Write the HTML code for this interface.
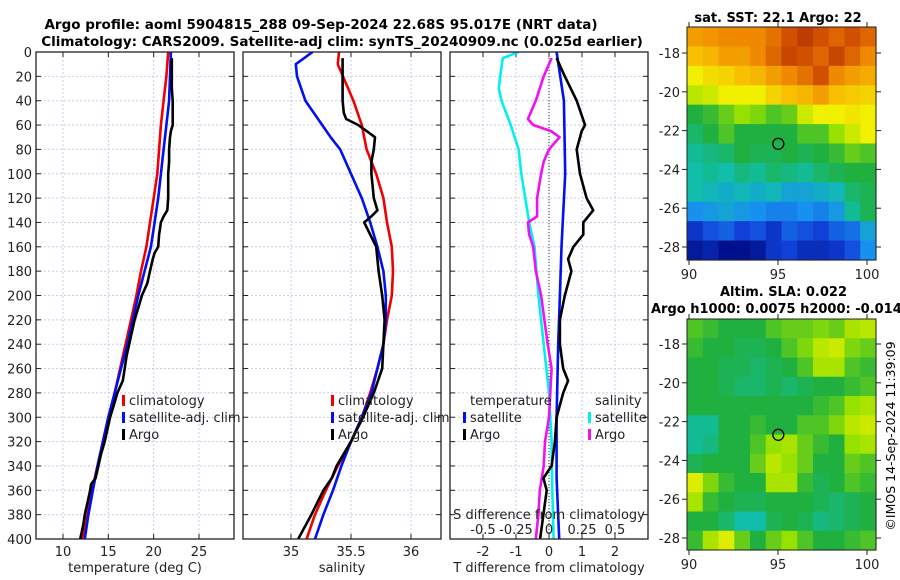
<!DOCTYPE html>
<html><head><meta charset="utf-8"><style>
html,body{margin:0;padding:0;background:#fff}
svg{display:block;font-family:"DejaVu Sans","Liberation Sans",sans-serif}
</style></head><body>
<svg id="chart" width="900" height="580" viewBox="0 0 900 580" xmlns="http://www.w3.org/2000/svg">
<text x="321" y="29" font-size="13.5" font-weight="bold" text-anchor="middle">Argo profile: aoml 5904815_288 09-Sep-2024 22.68S 95.017E (NRT data)</text>
<text x="342" y="46" font-size="13.5" font-weight="bold" text-anchor="middle">Climatology: CARS2009. Satellite-adj clim: synTS_20240909.nc (0.025d earlier)</text>
<g id="g"></g>
<text x="778" y="22" font-size="13" font-weight="bold" text-anchor="middle">sat. SST: 22.1 Argo: 22</text>
<text x="720" y="296" font-size="13" font-weight="bold">Altim. SLA: 0.022</text>
<text x="651" y="313" font-size="13" font-weight="bold">Argo h1000: 0.0075 h2000: -0.014</text>
<text transform="translate(895,436) rotate(-90)" font-size="12.5" text-anchor="middle">©IMOS 14-Sep-2024 11:39:09</text>
</svg>
<script>
const tDepthClim=[0,20,40,60,80,100,120,140,160,180,200,220,240,260,280,300,320,340,360,380,400];
const tempClim=[21.6,21.4,21.1,20.8,20.6,20.4,20.0,19.6,19.2,18.6,18.1,17.5,16.9,16.3,15.7,15.0,14.4,13.8,13.2,12.7,12.1];
const tempSat=[21.9,21.8,21.7,21.4,21.1,20.8,20.5,20.1,19.7,19.0,18.3,17.7,17.1,16.4,15.7,15.0,14.4,13.8,13.3,12.8,12.4];
const argoDepth=[5,10,20,30,40,50,60,65,70,80,90,100,110,120,130,135,140,150,160,165,170,180,190,200,210,220,230,240,250,260,270,280,290,300,310,320,330,340,350,355,360,370,380,390,400];
const tempArgo=[22.0,22.0,22.0,22.0,22.1,22.1,22.1,21.9,21.8,21.7,21.7,21.6,21.6,21.6,21.5,21.1,20.8,20.6,20.5,20.1,19.9,19.6,19.3,18.7,18.3,17.9,17.6,17.3,17.0,16.8,16.6,16.0,15.6,15.2,14.9,14.6,14.2,13.9,13.6,13.1,13.0,12.7,12.4,12.2,11.9];
const sDepthClim=[0,10,40,60,80,100,120,140,160,180,200,220,240,260,280,300,320,340,360,380,400];
const salClim=[35.40,35.39,35.52,35.59,35.63,35.71,35.77,35.80,35.84,35.85,35.84,35.80,35.77,35.72,35.66,35.59,35.50,35.39,35.29,35.20,35.13];
const sDepthSat=[0,10,20,40,60,70,80,100,120,140,160,180,200,220,240,260,280,300,320,340,360,380,400];
const salSat=[35.18,35.04,35.05,35.12,35.26,35.33,35.41,35.50,35.59,35.66,35.72,35.77,35.79,35.79,35.77,35.72,35.67,35.59,35.50,35.42,35.35,35.27,35.20];
const sDepthArgo=[5,20,40,50,55,60,65,70,80,90,100,120,130,135,140,150,160,180,200,220,240,260,280,300,320,340,350,360,380,400];
const salArgo=[35.43,35.43,35.43,35.44,35.46,35.56,35.63,35.70,35.69,35.67,35.67,35.69,35.72,35.67,35.61,35.66,35.71,35.73,35.76,35.78,35.77,35.76,35.69,35.60,35.50,35.38,35.34,35.27,35.17,35.06];
const dDepthTSat=[0,40,100,160,200,240,300,350,400];
const dTempSat=[0.23,0.45,0.49,0.38,0.33,0.28,0.23,0.23,0.31];
const dDepthTArgo=[5,20,40,60,65,80,100,120,130,140,150,160,170,180,200,220,240,260,270,280,300,320,340,350,360,380,400];
const dTempArgo=[0.23,0.48,0.84,1.09,0.99,0.84,0.94,1.14,1.34,1.04,1.04,0.74,0.58,0.68,0.48,0.33,0.33,0.43,0.58,0.43,0.23,0.18,0.08,-0.17,-0.07,-0.17,-0.27];
const dDepthSSat=[0,5,20,30,40,60,80,100,140,160,200,240,280,320,360,400];
const dSalSat=[-0.23,-0.35,-0.37,-0.38,-0.36,-0.29,-0.23,-0.21,-0.15,-0.11,-0.08,-0.04,0.00,0.02,0.025,0.035];
const dDepthSArgo=[5,20,40,55,60,65,70,80,90,100,120,135,140,150,160,180,200,240,260,280,300,320,340,360,380,400];
const dSalArgo=[0.02,-0.04,-0.10,-0.16,-0.12,0.015,0.08,0.00,-0.04,-0.06,-0.09,-0.09,-0.16,-0.15,-0.12,-0.10,-0.06,-0.01,0.02,0.01,0.00,-0.03,-0.04,-0.07,-0.08,-0.10];
const depthTicks=[0,20,40,60,80,100,120,140,160,180,200,220,240,260,280,300,320,340,360,380,400];
const tempTicks=[10,15,20,25];
const salTicks=[35,35.5,36];
const salTickLabels=["35","35.5","36"];
const dTempTicks=[-2,-1,0,1,2];
const dSalTicks=[-0.5,-0.25,0,0.25,0.5];
const dSalTickLabels=["-0.5","-0.25","0","0.25","0.5"];
const latTicks=[-18,-20,-22,-24,-26,-28];
const lonTicks=[90,95,100];
const sstGrid=[
[23.8,23.9,24.0,24.0,24.0,24.2,24.5,24.7,24.5,24.3,24.5,24.3],
[23.5,23.6,23.8,23.8,24.0,24.3,24.6,24.5,24.3,24.6,24.3,24.0],
[23.0,23.2,23.3,23.5,23.6,23.8,24.0,24.2,24.5,24.0,23.8,23.7],
[22.7,22.8,23.0,23.0,23.0,23.3,23.5,23.6,23.8,23.5,23.4,23.3],
[22.0,22.1,22.3,22.5,22.4,22.2,22.3,22.8,23.0,23.0,23.1,23.0],
[21.8,22.0,22.2,22.0,22.0,22.0,22.0,22.2,22.2,22.5,22.8,23.0],
[21.6,21.7,21.8,22.0,21.9,21.9,22.0,21.9,22.0,22.1,22.3,22.2],
[21.5,21.6,21.5,21.7,21.6,21.8,21.7,21.6,21.8,21.9,22.0,22.0],
[21.5,21.4,21.3,21.4,21.3,21.4,21.2,21.2,21.3,21.4,21.8,21.9],
[21.0,21.1,21.2,21.1,21.0,20.9,20.9,21.0,20.9,21.1,21.6,21.9],
[20.4,20.6,20.7,20.5,20.6,20.4,20.7,20.6,20.5,20.7,20.8,21.2],
[20.1,20.2,20.0,20.0,20.1,20.4,20.5,20.3,20.3,20.4,20.6,21.0]];
const slaGrid=[
[22.2,22.1,22.0,22.0,22.0,22.2,22.3,22.3,22.4,22.3,22.6,22.7],
[22.1,22.0,22.0,21.9,21.9,22.0,22.2,22.4,22.7,22.8,22.4,22.3],
[22.0,22.0,21.9,21.9,21.8,21.9,22.0,22.2,22.6,22.6,22.2,22.1],
[22.0,22.0,21.9,21.8,21.8,21.9,21.8,21.9,22.0,22.0,22.1,22.2],
[22.0,22.0,22.0,22.0,22.0,22.0,22.0,22.0,22.1,22.2,22.5,22.6],
[21.6,21.6,22.0,22.0,22.1,22.0,22.0,22.2,22.2,22.4,22.7,22.8],
[21.6,21.7,22.0,22.0,22.2,22.5,22.6,22.3,22.1,22.0,22.5,22.6],
[21.9,22.0,22.0,22.0,22.3,22.7,22.5,22.3,22.0,22.0,22.3,22.2],
[22.9,22.4,22.1,22.0,22.0,22.6,22.6,22.1,21.9,22.0,22.2,22.1],
[22.6,22.1,22.0,21.9,21.9,22.0,22.0,22.0,21.9,21.8,21.9,22.0],
[22.0,22.0,21.8,21.5,21.5,21.9,22.0,21.9,21.7,21.8,21.9,22.0],
[22.1,22.6,22.9,22.3,22.0,22.3,22.5,22.2,22.0,22.0,22.1,22.2]];
const argoLon=95.017, argoLat=-22.68;

const NS="http://www.w3.org/2000/svg";
const G=document.getElementById('g');
function mk(tag,at,parent){const e=document.createElementNS(NS,tag);for(const k in at)e.setAttribute(k,at[k]);(parent||G).appendChild(e);return e;}
const Y0=52,Y1=539;
const yD=d=>Y0+(d/400)*(Y1-Y0);
function lin(d0,d1,r0,r1){return v=>r0+(v-d0)/(d1-d0)*(r1-r0);}

function panel(name,x0,x1,xs,xt,xtl,showY,xlabel){
  const grid=mk('g',{});
  
  
  depthTicks.forEach(d=>{
    const gl=mk('line',{x1:x0,x2:x1,y1:yD(d),y2:yD(d),stroke:'#c8cbea','stroke-width':1,'stroke-dasharray':'2,2'},grid);
    
    
    mk('line',{x1:x0,x2:x0+5,y1:yD(d),y2:yD(d),stroke:'#222'},grid);
    mk('line',{x1:x1-5,x2:x1,y1:yD(d),y2:yD(d),stroke:'#222'},grid);
    if(showY){const t=mk('text',{x:x0-4,y:yD(d)+5,'font-size':13,'text-anchor':'end',fill:'#222'});t.textContent=d;
      
      }
  });
  xt.forEach((v,i)=>{
    const x=xs(v);
    const gl=mk('line',{x1:x,x2:x,y1:Y0,y2:Y1,stroke:'#c8cbea','stroke-width':1,'stroke-dasharray':'2,2'},grid);
    
    
    mk('line',{x1:x,x2:x,y1:Y1-5,y2:Y1,stroke:'#222'},grid);
    mk('line',{x1:x,x2:x,y1:Y0,y2:Y0+5,stroke:'#222'},grid);
    const t=mk('text',{x:x,y:556,'font-size':13,'text-anchor':'middle',fill:'#222'});t.textContent=xtl?xtl[i]:v;
    
    
  });
  const xl=mk('text',{x:(x0+x1)/2,y:572,'font-size':13,'text-anchor':'middle',fill:'#222'});xl.textContent=xlabel;
  
  
}
function frame(name,x0,x1){
  const r=mk('rect',{x:x0,y:Y0,width:x1-x0,height:Y1-Y0,fill:'none',stroke:'#222','stroke-width':1.3});
  
  
}
function line(name,depths,vals,xs,color,clip){
  const pts=depths.map((d,i)=>xs(vals[i]).toFixed(1)+','+yD(d).toFixed(1)).join(' ');
  const p=mk('polyline',{points:pts,fill:'none',stroke:color,'stroke-width':2.6,'stroke-linejoin':'round','clip-path':'url(#'+clip+')'});
  
  
}
function legend(name,x,y,color,label){
  const m=mk('rect',{x:x,y:y-10,width:3,height:11,fill:color});
  
  
  const t=mk('text',{x:x+7,y:y,'font-size':13,fill:'#222'});t.textContent=label;
  
  
}
const defs=mk('defs',{});
[['c1',36,234],['c2',243,441],['c3',450,648]].forEach(c=>{const cp=mk('clipPath',{id:c[0]},defs);mk('rect',{x:c[1],y:Y0,width:c[2]-c[1],height:Y1-Y0},cp);});

const xT=lin(10,25,63,199);
panel('temperature-panel',36,234,xT,tempTicks,null,true,'temperature (deg C)');
line('temp-climatology-line',tDepthClim,tempClim,xT,'#f00000','c1');
line('temp-satellite-line',tDepthClim,tempSat,xT,'#0010f0','c1');
line('temp-argo-line',argoDepth,tempArgo,xT,'#000','c1');
legend('legend-climatology',122,405,'#f00000','climatology');
legend('legend-satellite-adj',122,422,'#0010f0','satellite-adj. clim');
legend('legend-argo',122,439,'#000','Argo');
frame('temperature-panel',36,234);

const xS=lin(35,36,291,411);
panel('salinity-panel',243,441,xS,salTicks,salTickLabels,false,'salinity');
line('sal-climatology-line',sDepthClim,salClim,xS,'#f00000','c2');
line('sal-satellite-line',sDepthSat,salSat,xS,'#0010f0','c2');
line('sal-argo-line',sDepthArgo,salArgo,xS,'#000','c2');
legend('legend2-climatology',331,405,'#f00000','climatology');
legend('legend2-satellite-adj',331,422,'#0010f0','satellite-adj. clim');
legend('legend2-argo',331,439,'#000','Argo');
frame('salinity-panel',243,441);

const xDT=lin(0,1,549,582), xDS=lin(0,0.25,549,582);
panel('difference-panel',450,648,xDT,dTempTicks,null,false,'T difference from climatology');
const zl=mk('line',{x1:549,x2:549,y1:Y0,y2:Y1,stroke:'#333','stroke-width':1,'stroke-dasharray':'1,2'});


line('dsal-satellite-line',dDepthSSat,dSalSat,xDS,'#00f0f0','c3');
line('dsal-argo-line',dDepthSArgo,dSalArgo,xDS,'#f010f0','c3');
line('dtemp-satellite-line',dDepthTSat,dTempSat,xDT,'#0010f0','c3');
line('dtemp-argo-line',dDepthTArgo,dTempArgo,xDT,'#000','c3');
const lt=mk('text',{x:470,y:405,'font-size':13,fill:'#222'});lt.textContent='temperature';


const ls=mk('text',{x:595,y:405,'font-size':13,fill:'#222'});ls.textContent='salinity';


legend('legend3-temp-satellite',463,422,'#0010f0','satellite');
legend('legend3-temp-argo',463,439,'#000','Argo');
legend('legend3-sal-satellite',588,422,'#00f0f0','satellite');
legend('legend3-sal-argo',588,439,'#f010f0','Argo');
const st=mk('text',{x:549,y:519,'font-size':13,'text-anchor':'middle',fill:'#222'});st.textContent='S difference from climatology';


dSalTicks.forEach((v,i)=>{const t=mk('text',{x:xDS(v),y:534,'font-size':13,'text-anchor':'middle',fill:'#222'});t.textContent=dSalTickLabels[i];
  
  });
frame('difference-panel',450,648);

const stops=[[20,[0,16,140]],[20.5,[16,64,216]],[21,[24,144,240]],[21.5,[16,190,170]],[22,[32,176,64]],[22.5,[150,225,0]],[23,[240,240,0]],[23.5,[248,192,0]],[24,[240,136,0]],[24.5,[208,80,0]],[25,[160,32,0]]];
function cmap(v){if(v<=stops[0][0])return 'rgb('+stops[0][1]+')';for(let i=1;i<stops.length;i++){if(v<=stops[i][0]){const a=stops[i-1],b=stops[i],f=(v-a[0])/(b[0]-a[0]);return 'rgb('+a[1].map((c,j)=>Math.round(c+(b[1][j]-c)*f)).join(',')+')';}}return 'rgb('+stops[stops.length-1][1]+')';}
function map(name,top,bot,lat18,grid){
  const x0=687,x1=876;
  const xL=lin(90,100,689,867), yL=lin(-18,-28,lat18,lat18+194);
  const rows=grid.length,cols=grid[0].length,cw=(x1-x0)/cols,ch=(bot-top)/rows;
  const g=mk('g',{});
  
  
  grid.forEach((row,r)=>row.forEach((v,c)=>{
    const cell=mk('rect',{x:(x0+c*cw).toFixed(2),y:(top+r*ch).toFixed(2),width:(cw+0.6).toFixed(2),height:(ch+0.6).toFixed(2),fill:cmap(v)},g);
    
    
  }));
  const fr=mk('rect',{x:x0,y:top,width:x1-x0,height:bot-top,fill:'none',stroke:'#222','stroke-width':1});
  
  
  latTicks.forEach(l=>{const y=yL(l);
    mk('line',{x1:x0-5,x2:x0,y1:y,y2:y,stroke:'#222'});mk('line',{x1:x1,x2:x1+5,y1:y,y2:y,stroke:'#222'});
    const t=mk('text',{x:x0-7,y:y+5,'font-size':13,'text-anchor':'end',fill:'#222'});t.textContent=l;
    
    });
  lonTicks.forEach(l=>{const x=xL(l);
    mk('line',{x1:x,x2:x,y1:bot,y2:bot+5,stroke:'#222'});mk('line',{x1:x,x2:x,y1:top-5,y2:top,stroke:'#222'});
    const t=mk('text',{x:x,y:bot+19,'font-size':13,'text-anchor':'middle',fill:'#222'});t.textContent=l;
    
    });
  const c=mk('circle',{cx:xL(argoLon),cy:yL(argoLat),r:5.5,fill:'none',stroke:'#000','stroke-width':1.3});
  
  
}
map('sst-map',27,260,53,sstGrid);
map('sla-map',319,550,344,slaGrid);
</script>
</body></html>
